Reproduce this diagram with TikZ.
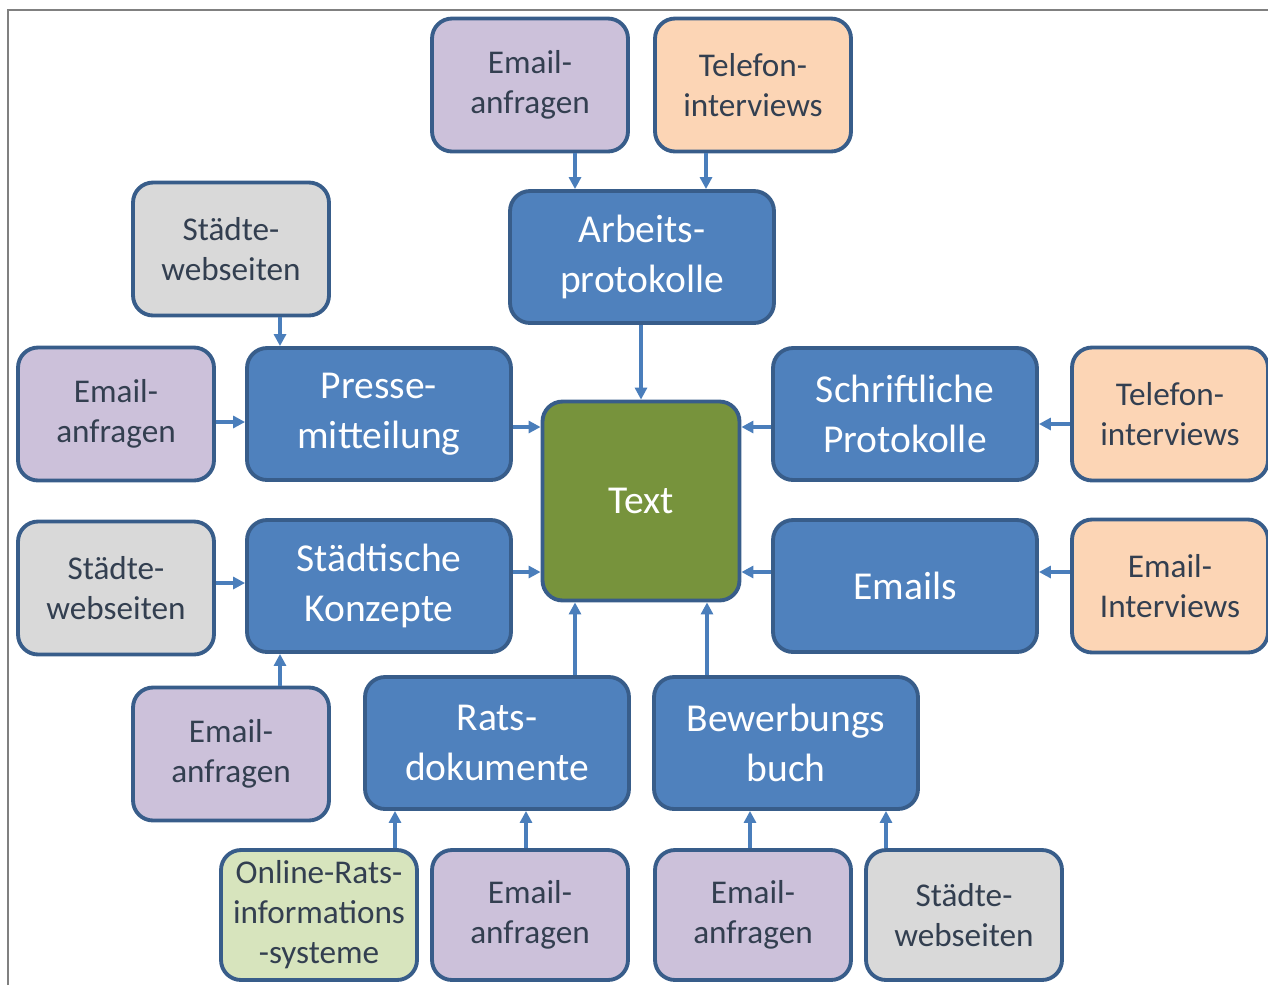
\documentclass[tikz,border=0pt]{standalone}
\usepackage{fontspec}
\setmainfont{Carlito}
\usetikzlibrary{arrows.meta}
\definecolor{bfill}{HTML}{4F81BD}
\definecolor{bdraw}{HTML}{385D8A}
\definecolor{purp}{HTML}{CCC1DA}
\definecolor{peach}{HTML}{FCD5B5}
\definecolor{lgray}{HTML}{D9D9D9}
\definecolor{lgreen}{HTML}{D7E4BD}
\definecolor{dgreen}{HTML}{77933C}
\definecolor{arrc}{HTML}{4A7EBB}
\definecolor{txt}{HTML}{333F50}
\definecolor{frame}{HTML}{808080}
\tikzset{
  box/.style={draw=bdraw, line width=2.2pt, rounded corners=0.4cm, align=center, inner sep=0pt},
  small/.style={box, minimum width=3.92cm, minimum height=2.66cm, text=txt, font=\fontsize{18.9}{22.7}\selectfont},
  big/.style={box, fill=bfill, minimum width=5.28cm, minimum height=2.64cm, text=white, font=\fontsize{22.5}{28.3}\selectfont},
  arr/.style={draw=arrc, line width=1.8pt, -{Triangle[length=0.24cm, width=0.24cm]}},
}
\begin{document}
\begin{tikzpicture}[x=0.02cm, y=-0.02cm]
\useasboundingbox (0,0) rectangle (1268,985);
\draw[frame, line width=1.2pt] (8,985) -- (8,10) -- (1268,10);
% top row
\node[small, fill=purp] (emt) at (530,85) {Email-\\anfragen};
\node[small, fill=peach] (tft) at (753,85) {Telefon-\\interviews};
\node[big] (arb) at (642,257) {Arbeits-\\protokolle};
\node[small, fill=lgray] (stl1) at (231,249) {Städte-\\webseiten};
% middle
\node[small, fill=purp] (eml) at (116,414) {Email-\\anfragen};
\node[big] (pre) at (379,414) {Presse-\\mitteilung};
\node[box, fill=dgreen, minimum width=3.94cm, minimum height=3.98cm, text=white, font=\fontsize{22.5}{28.3}\selectfont] (txtn) at (641,501) {Text};
\node[big] (sch) at (905,414) {Schriftliche\\Protokolle};
\node[small, fill=peach] (tfr) at (1170,414) {Telefon-\\interviews};
\node[small, fill=lgray] (stl2) at (116,588) {Städte-\\webseiten};
\node[big] (kon) at (379,586) {Städtische\\Konzepte};
\node[big] (ems) at (905,586) {Emails};
\node[small, fill=peach] (emi) at (1170,586) {Email-\\Interviews};
% lower
\node[small, fill=purp] (eml2) at (231,754) {Email-\\anfragen};
\node[big] (rat) at (497,743) {Rats-\\dokumente};
\node[big] (bew) at (786,743) {Bewerbungs\\buch};
\node[small, fill=lgreen, minimum height=2.6cm] (onl) at (319,915) {Online-Rats-\\informations\\-systeme};
\node[small, fill=purp, minimum height=2.6cm] (emb1) at (530,915) {Email-\\anfragen};
\node[small, fill=purp, minimum height=2.6cm] (emb2) at (753,915) {Email-\\anfragen};
\node[small, fill=lgray, minimum height=2.6cm] (stb) at (964,915) {Städte-\\webseiten};
% arrows
\draw[arr] (emt.south -| 575,0) -- (arb.north -| 575,0);
\draw[arr] (tft.south -| 706,0) -- (arb.north -| 706,0);
\draw[arr] (arb.south -| 641,0) -- (txtn.north -| 641,0);
\draw[arr] (stl1.south -| 280,0) -- (pre.north -| 280,0);
\draw[arr] (eml.east |- 0,422) -- (pre.west |- 0,422);
\draw[arr] (pre.east |- 0,427) -- (txtn.west |- 0,427);
\draw[arr] (sch.west |- 0,427) -- (txtn.east |- 0,427);
\draw[arr] (tfr.west |- 0,424) -- (sch.east |- 0,424);
\draw[arr] (stl2.east |- 0,583) -- (kon.west |- 0,583);
\draw[arr] (kon.east |- 0,572) -- (txtn.west |- 0,572);
\draw[arr] (ems.west |- 0,572) -- (txtn.east |- 0,572);
\draw[arr] (emi.west |- 0,572) -- (ems.east |- 0,572);
\draw[arr] (eml2.north -| 280,0) -- (kon.south -| 280,0);
\draw[arr] (rat.north -| 575,0) -- (txtn.south -| 575,0);
\draw[arr] (bew.north -| 707,0) -- (txtn.south -| 707,0);
\draw[arr] (onl.north -| 395,0) -- (rat.south -| 395,0);
\draw[arr] (emb1.north -| 526,0) -- (rat.south -| 526,0);
\draw[arr] (emb2.north -| 750,0) -- (bew.south -| 750,0);
\draw[arr] (stb.north -| 886,0) -- (bew.south -| 886,0);
\end{tikzpicture}
\end{document}
